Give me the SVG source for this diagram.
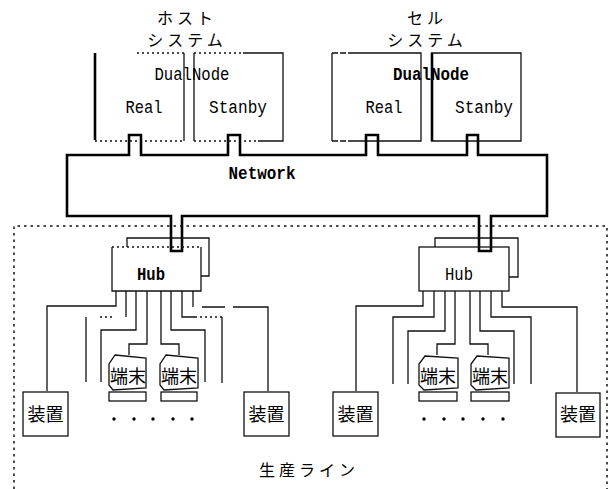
<svg xmlns="http://www.w3.org/2000/svg" width="610" height="489" viewBox="0 0 610 489">
<style>
.l{fill:none;stroke:#111;stroke-width:1.3}
.d{fill:none;stroke:#111;stroke-width:1.3;stroke-dasharray:2 3}
.h{fill:none;stroke:#000;stroke-width:2.6}
.t{font-family:"Liberation Mono",monospace;font-size:18px;fill:#000;font-weight:bold;text-anchor:middle}
.n{font-family:"Liberation Mono",monospace;font-size:18px;fill:#000;text-anchor:middle}
.j{font-family:"Noto Sans CJK JP",sans-serif;font-size:16px;fill:#000;text-anchor:middle}
.k{font-family:"Noto Sans CJK JP",sans-serif;font-size:18px;fill:#000;text-anchor:middle}
</style>
<rect width="610" height="489" fill="#fff"/>
<g id="label-host" class="j"><text x="187" y="24" letter-spacing="4">ホスト</text><text x="187" y="46" letter-spacing="4">システム</text></g>
<g id="label-cell" class="j"><text x="427" y="24" letter-spacing="4">セル</text><text x="427" y="46" letter-spacing="4">システム</text></g>
<g id="host-real"><path class="h" d="M95,53V140"/><path class="d" d="M137,53H184M95,141H184"/><path class="l" d="M184,53V141"/><text class="n" x="144" y="113" textLength="37" lengthAdjust="spacingAndGlyphs">Real</text></g>
<g id="host-stanby"><path class="l" d="M194,53V141M243,53H283V141H258"/><path class="d" d="M194,53H243M194,141H258"/><text class="n" x="238" y="113" textLength="58" lengthAdjust="spacingAndGlyphs">Stanby</text></g>
<g id="cell-real"><path class="l" d="M332,53V141M350,141H421V53H350"/><path class="l" d="M332,53H350M332,141H350" stroke-dasharray="6 2"/><text class="n" x="384" y="113" textLength="37" lengthAdjust="spacingAndGlyphs">Real</text></g>
<g id="cell-stanby"><path class="l" d="M431,141H521V53H431"/><path class="h" d="M432,53V141"/><text class="n" x="484" y="113" textLength="58" lengthAdjust="spacingAndGlyphs">Stanby</text></g>
<text class="n" x="192" y="80" textLength="75" lengthAdjust="spacingAndGlyphs">DualNode</text>
<text class="t" x="431" y="80" textLength="76" lengthAdjust="spacingAndGlyphs">DualNode</text>
<g id="network"><path class="h" d="M67,216V155H129V135H141V155H228V135H240V155H366V135H378V155H467V135H478V155H547V216H491V251H479V216H182V251H171V216Z"/><text class="t" x="262" y="179" textLength="67" lengthAdjust="spacingAndGlyphs">Network</text></g>
<g id="line-boundary"><path d="M14,489V226H607V489" fill="none" stroke="#111" stroke-width="1.5" stroke-dasharray="2.5 4"/><text class="j" x="309" y="476" letter-spacing="4">生産ライン</text></g>
<g id="hub-left"><path class="l" d="M112,247V291H201V247"/><path class="d" d="M112,247H201"/><path class="l" d="M127,247V238H209V276H201"/><text class="t" x="151" y="280" textLength="28" lengthAdjust="spacingAndGlyphs">Hub</text></g>
<g id="hub-right"><rect class="l" x="419" y="247" width="90" height="44"/><path class="l" d="M435,247V238H518V277H509"/><text class="n" x="459" y="280" textLength="28" lengthAdjust="spacingAndGlyphs">Hub</text></g>
<g id="connectors">
<path class="l" d="M116,291V306H47V391"/>
<path class="l" d="M126,291V317"/><path class="d" d="M100,317H113"/><path class="l" d="M86,317V382"/>
<path class="l" d="M136,291V330H101V382"/>
<path class="l" d="M147,291V344H129V355" stroke-width="1.6"/>
<path class="l" d="M161,291V344H179V355"/>
<path class="l" d="M171,291V330H205V382"/>
<path class="l" d="M182,291V317H195"/><path class="d" d="M195,317H222"/><path class="l" d="M222,317V383"/>
<path class="l" d="M193,291V307"/><path class="l" d="M202,307H225M233,307H268V391"/>
<path class="l" d="M423,291V306H356V391"/>
<path class="l" d="M434,291V317H393V384"/>
<path class="l" d="M445,291V331H408V384"/>
<path class="l" d="M455,291V344H437V355"/>
<path class="l" d="M470,291V344H488V355"/>
<path class="l" d="M480,291V331H514V384"/>
<path class="l" d="M491,291V317H531V384"/>
<path class="l" d="M502,291V307H577V392"/>
</g>
<g id="device-1"><rect class="l" x="23" y="392" width="45" height="44"/><text class="k" x="45.500" y="421">装置</text></g>
<g id="device-2"><rect class="l" x="244" y="392" width="45" height="44"/><text class="k" x="266.500" y="421">装置</text></g>
<g id="device-3"><rect class="l" x="333" y="392" width="45" height="44"/><text class="k" x="355.500" y="421">装置</text></g>
<g id="device-4"><rect class="l" x="556" y="393" width="44" height="44"/><text class="k" x="578" y="421">装置</text></g>
<g id="terminal-1"><path class="l" d="M115,355L146,358V388L113,390L109,385V364Z"/><rect class="l" x="109" y="392" width="37" height="9"/><text class="k" x="128" y="383">端末</text></g>
<g id="terminal-2"><path class="l" d="M166,355L198,358V388L164,390L160,385V364Z"/><rect class="l" x="161" y="392" width="36" height="9"/><text class="k" x="179" y="383">端末</text></g>
<g id="terminal-3"><path class="l" d="M425,356L458,358V388L424,390L419,385V364Z"/><rect class="l" x="419" y="392" width="38" height="9"/><text class="k" x="438" y="383">端末</text></g>
<g id="terminal-4"><path class="l" d="M477,356L509,358V388L476,390L471,385V364Z"/><rect class="l" x="471" y="392" width="38" height="9"/><text class="k" x="490" y="383">端末</text></g>
<g id="dots-left" fill="#000"><circle cx="114" cy="419" r="1.700"/><circle cx="134" cy="419" r="1.700"/><circle cx="153" cy="419" r="1.700"/><circle cx="173" cy="419" r="1.700"/><circle cx="192" cy="419" r="1.700"/></g>
<g id="dots-right" fill="#000"><circle cx="424" cy="419" r="1.700"/><circle cx="444" cy="419" r="1.700"/><circle cx="463" cy="419" r="1.700"/><circle cx="483" cy="419" r="1.700"/><circle cx="503" cy="419" r="1.700"/></g>
</svg>
